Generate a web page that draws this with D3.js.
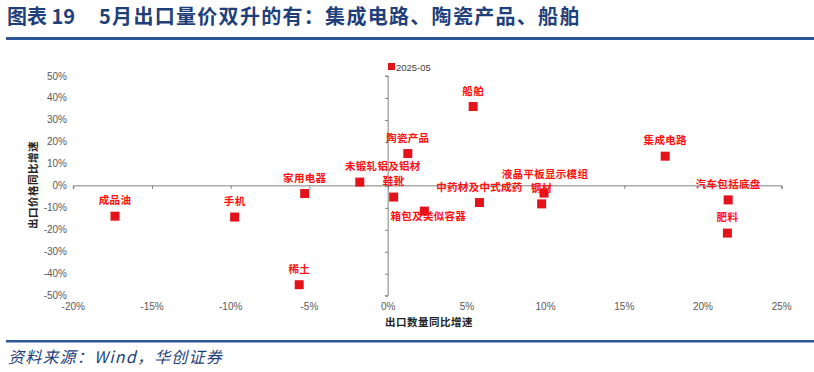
<!DOCTYPE html>
<html>
<head>
<meta charset="utf-8">
<script src="https://cdn.jsdelivr.net/npm/d3@7.9.0/dist/d3.min.js"></script>
<style>
  body { margin: 0; background: #fff; }
  svg { display: block; }
</style>
</head>
<body>
<svg id="chart" width="814" height="372"></svg>
<script>
// products, export volume yoy (%), export price yoy (%)
const products = ['成品油', '手机', '家用电器', '稀土', '未锻轧铝及铝材', '鞋靴', '陶瓷产品', '船舶',
  '箱包及类似容器', '中药材及中式成药', '钢材', '液晶平板显示模组', '集成电路', '汽车包括底盘', '肥料'];
const volumeYoy = [-17.35, -9.75, -5.3, -5.65, -1.8, 0.35, 1.25, 5.4, 2.3, 5.8, 9.75, 9.9, 17.6, 21.6, 21.55];
const priceYoy = [-13.8, -14.2, -3.5, -45.0, 1.7, -5.1, 14.7, 36.1, -11.5, -7.6, -8.2, -3.3, 13.5, -6.4, -21.5];
const xTicks = [-20, -15, -10, -5, 0, 5, 10, 15, 20, 25];
const yTicks = [-50, -40, -30, -20, -10, 0, 10, 20, 30, 40, 50];
const seriesName = '2025-05';

// labels moved by hand in the original
const labelNudge = {
  '未锻轧铝及铝材': [23, 0],
  '箱包及类似容器': [4, 21],
  '液晶平板显示模组': [1, -3]
};

const svg = d3.select('#chart');
const navy = '#1f3f7a';
const red = '#e3121b';

// title + rules
svg.append('text')
  .attr('x', 7).attr('y', 24)
  .attr('fill', navy)
  .attr('font-family', 'Noto Sans CJK SC')
  .attr('font-weight', 'bold')
  .attr('font-size', 20)
  .attr('xml:space', 'preserve')
  .text('图表 19');
svg.append('text')
  .attr('x', 99).attr('y', 24)
  .attr('fill', navy)
  .attr('font-family', 'Noto Sans CJK SC')
  .attr('font-weight', 'bold')
  .attr('font-size', 20)
  .attr('letter-spacing', 1.3)
  .text('5月出口量价双升的有：集成电路、陶瓷产品、船舶');

svg.append('rect').attr('x', 6).attr('y', 37).attr('width', 808).attr('height', 3).attr('fill', '#2b5797');
svg.append('rect').attr('x', 6).attr('y', 340).attr('width', 808).attr('height', 2.5).attr('fill', '#2b5797');

svg.append('text')
  .attr('x', 8).attr('y', 363)
  .attr('fill', navy)
  .attr('font-family', 'Noto Sans CJK SC')
  .attr('font-style', 'italic')
  .attr('font-size', 16)
  .attr('letter-spacing', 1.2)
  .text('资料来源：Wind，华创证券');

// scales
const x = d3.scaleLinear().domain([-20, 25]).range([73.3, 781.7]);
const y = d3.scaleLinear().domain([-50, 50]).range([295.7, 76]);

// x axis on y = 0
const xAxis = svg.append('g')
  .attr('transform', `translate(0,${y(0)})`)
  .call(d3.axisBottom(x).tickValues(xTicks).tickSize(3).tickFormat(() => ''));
xAxis.select('.domain').attr('stroke', '#808080').attr('d', `M${x(-20)},3V0H${x(25)}V3`);
xAxis.selectAll('.tick line').attr('stroke', '#808080');

// y axis on x = 0
const yAxis = svg.append('g')
  .attr('transform', `translate(${x(0)},0)`)
  .call(d3.axisLeft(y).tickValues(yTicks).tickSize(3).tickFormat(() => ''));
yAxis.select('.domain').attr('stroke', '#808080').attr('d', `M-3,${y(50)}H0V${y(-50)}H-3`);
yAxis.selectAll('.tick line').attr('stroke', '#808080');

// tick labels at chart edges
svg.append('g').selectAll('text')
  .data(xTicks).join('text')
  .attr('x', d => x(d)).attr('y', 310)
  .attr('text-anchor', 'middle')
  .attr('font-family', 'Liberation Sans').attr('font-size', 10)
  .attr('fill', '#595959')
  .text(d => d + '%');

svg.append('g').selectAll('text')
  .data(yTicks).join('text')
  .attr('x', 67).attr('y', d => y(d) + 3.5)
  .attr('text-anchor', 'end')
  .attr('font-family', 'Liberation Sans').attr('font-size', 10)
  .attr('fill', '#595959')
  .text(d => d + '%');

// axis titles
svg.append('text')
  .attr('x', 385).attr('y', 326)
  .attr('font-family', 'Noto Sans CJK SC').attr('font-weight', 'bold').attr('font-size', 10.5)
  .attr('fill', '#222')
  .attr('letter-spacing', 0.5)
  .text('出口数量同比增速');

svg.append('text')
  .attr('transform', 'translate(37,185) rotate(-90)')
  .attr('text-anchor', 'middle')
  .attr('font-family', 'Noto Sans CJK SC').attr('font-weight', 'bold').attr('font-size', 10.5)
  .attr('fill', '#222')
  .attr('letter-spacing', 0.5)
  .text('出口价格同比增速');

// legend
svg.append('rect').attr('x', 388).attr('y', 63).attr('width', 7).attr('height', 7).attr('fill', red);
svg.append('text')
  .attr('x', 396).attr('y', 70.5)
  .attr('font-family', 'Liberation Sans').attr('font-size', 9.5)
  .attr('fill', '#404040')
  .text(seriesName);

// points
const pts = products.map((p, i) => ({ name: p, vx: volumeYoy[i], vy: priceYoy[i] }));

svg.append('g').selectAll('rect')
  .data(pts).join('rect')
  .attr('x', d => x(d.vx) - 4.5).attr('y', d => y(d.vy) - 4.5)
  .attr('width', 9).attr('height', 9)
  .attr('fill', red);

svg.append('g').selectAll('text')
  .data(pts).join('text')
  .attr('x', d => x(d.vx) + (labelNudge[d.name] ? labelNudge[d.name][0] : 0))
  .attr('y', d => y(d.vy) - 12 + (labelNudge[d.name] ? labelNudge[d.name][1] : 0))
  .attr('text-anchor', 'middle')
  .attr('font-family', 'Noto Sans CJK SC').attr('font-weight', 'bold').attr('font-size', 10.5)
  .attr('fill', '#ff1010')
  .attr('letter-spacing', 0.3)
  .text(d => d.name);
</script>
</body>
</html>
